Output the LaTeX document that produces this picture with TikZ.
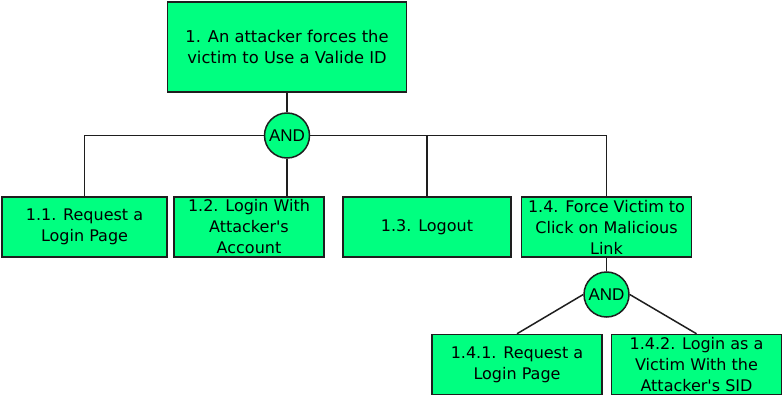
\documentclass[tikz,border=0pt]{standalone}
\usepackage{fontspec}
\setmainfont{DejaVu Sans}
\newfontfamily\andfont{Liberation Sans}
\definecolor{boxgreen}{RGB}{0,255,128}
\definecolor{edge}{RGB}{30,30,30}
\newcommand{\apos}{\textquotesingle}
\begin{document}
\begin{tikzpicture}[x=1pt,y=-1pt,
  box/.style={draw=edge,line width=1.5pt,fill=boxgreen,rectangle,inner sep=0pt,
    align=center,font=\fontsize{16}{21}\selectfont},
  gate/.style={draw=edge,line width=1.5pt,fill=boxgreen,circle,inner sep=0pt,
    minimum size=45pt,font=\andfont\fontsize{17}{19}\selectfont},
  link/.style={draw=edge,line width=1.5pt}]
\useasboundingbox (0,0) rectangle (784,417);
\node[box,minimum width=239pt,minimum height=90pt,font=\fontsize{16.3}{21}\selectfont] (top) at (287,47) {1. An attacker forces the\\victim to Use a Valide ID};
\node[gate] (and1) at (287,135.5) {AND};
\node[box,minimum width=165pt,minimum height=60pt] (b11) at (84.5,227) {1.1. Request a\\Login Page};
\node[box,minimum width=150pt,minimum height=60pt] (b12) at (249,227) {1.2. Login With\\Attacker\apos s\\Account};
\node[box,minimum width=168pt,minimum height=60pt] (b13) at (427,227) {1.3. Logout};
\node[box,minimum width=170pt,minimum height=60pt] (b14) at (606.5,227) {1.4. Force Victim to\\Click on Malicious\\Link};
\node[gate] (and2) at (606.5,294.5) {AND};
\node[box,minimum width=170pt,minimum height=60pt] (b141) at (517,364.5) {1.4.1. Request a\\Login Page};
\node[box,minimum width=170pt,minimum height=60pt] (b142) at (696.5,364.5) {1.4.2. Login as a\\Victim With the\\Attacker\apos s SID};
\draw[link] (top.south) -- (and1.north);
\draw[link] (and1.west) -| (b11.north);
\draw[link] (and1.south) -- (and1.south |- b12.north);
\draw[link] (and1.east) -| (b13.north);
\draw[link] (and1.east) -| (b14.north);
\draw[link] (b14.south) -- (and2.north);
\draw[link] (and2.west) -- (b141.north);
\draw[link] (and2.east) -- (b142.north);
\end{tikzpicture}
\end{document}
